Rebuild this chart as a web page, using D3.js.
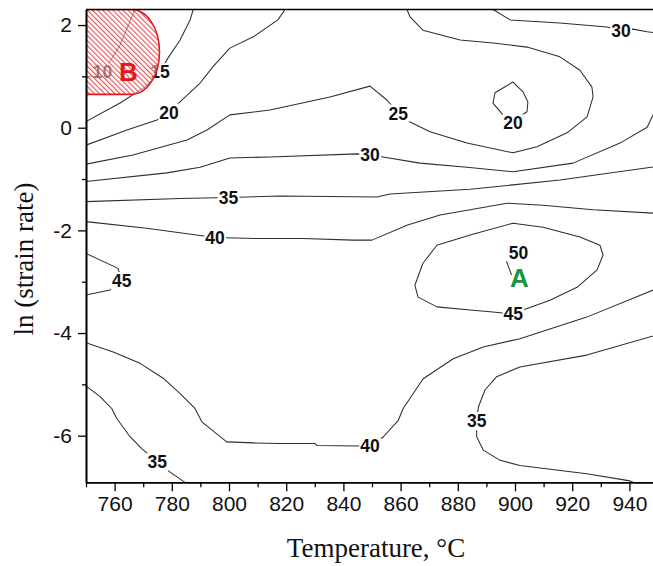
<!DOCTYPE html>
<html>
<head>
<meta charset="utf-8">
<script src="https://cdn.jsdelivr.net/npm/d3@7"></script>
<style>
  html, body { margin: 0; padding: 0; background: #fff; }
  svg { display: block; }
</style>
</head>
<body>
<svg id="chart" width="653" height="566"></svg>
<script>
// Processing map: power dissipation efficiency (%) over temperature and ln(strain rate)
const tempDomain = [750, 950];
const lnRateDomain = [Math.log(0.001), Math.log(10)];

const xMajorTicks = [760, 780, 800, 820, 840, 860, 880, 900, 920, 940];
const xMinorTicks = [750, 770, 790, 810, 830, 850, 870, 890, 910, 930, 950];
const yMajorTicks = [2, 0, -2, -4, -6];
const yMinorTicks = [1, -1, -3, -5];

// iso-efficiency lines, points as [temperature °C, ln strain rate]
const contour10 = [[767.1, 2.303], [761.9, 1.61], [758.7, 1.32], [755.8, 1.09], [750, 0.97]];
const contour15 = [[787.5, 2.303], [786.4, 2.10], [782.9, 1.71], [778.7, 1.36], [775.9, 1.09],
  [770.6, 0.79], [761.9, 0.48], [750, 0.12]];
const contour20Left = [[819.6, 2.303], [817.1, 2.10], [808.5, 1.77], [800.3, 1.55], [794.4, 1.19],
  [789.9, 0.87], [783.6, 0.54], [779.0, 0.30], [774.8, 0.15], [764.3, -0.045], [750, -0.34]];
const contour20Island = [[899.3, 0.89], [902.8, 0.70], [904.5, 0.50], [904.2, 0.31], [899.5, 0.14],
  [895.8, 0.25], [892.3, 0.48], [893.0, 0.68]];
const contour25 = [[750, -0.71], [766.4, -0.53], [785.3, -0.24], [792.3, -0.045], [800.3, 0.25],
  [814.3, 0.345], [835.3, 0.60], [849.3, 0.81], [855.2, 0.54], [859.2, 0.28], [863.3, 0.11],
  [870.3, -0.08], [883.2, -0.30], [899.3, -0.49], [907.7, -0.37], [918.2, -0.10], [925.2, 0.21],
  [927.3, 0.60], [926.9, 0.79], [922.7, 1.12], [915.7, 1.38], [904.2, 1.57], [892.3, 1.65],
  [880.8, 1.71], [867.8, 1.90], [863.3, 2.16], [862.2, 2.303]];
const contour30Top = [[892.3, 2.303], [898.3, 2.10], [915.7, 2.04], [932.2, 1.96], [937.1, 1.89],
  [941.3, 1.92], [946.2, 1.87], [950, 1.84]];
const contour30 = [[750, -1.05], [778.3, -0.88], [789.9, -0.77], [800.3, -0.59], [814.3, -0.57],
  [844.8, -0.51], [849.3, -0.53], [853.8, -0.57], [866.8, -0.69], [883.2, -0.77], [899.3, -0.86],
  [920.3, -0.69], [936.7, -0.30], [946.2, 0.01], [950, 0.45]];
const contour35 = [[750, -1.44], [782.9, -1.38], [799.8, -1.36], [817.8, -1.33], [851.7, -1.35],
  [856.3, -1.29], [884.3, -1.20], [915.7, -1.02], [950, -0.75]];
const contour40 = [[750, -1.83], [771.2, -1.96], [795.1, -2.14], [810.8, -2.16], [825.9, -2.16],
  [843.4, -2.19], [850, -2.19], [862.2, -1.90], [873.8, -1.70], [884.3, -1.60], [897.2, -1.47],
  [909.8, -1.51], [927.3, -1.60], [950, -1.67]];
const contour45Left = [[750, -2.45], [761.2, -2.74], [762.5, -2.98], [758.4, -3.16], [750, -3.26]];
const contour45Island = [[899.4, -3.63], [902.8, -3.55], [912.2, -3.36], [921.7, -3.11], [928.7, -2.77],
  [930.8, -2.48], [929.7, -2.29], [922.7, -2.13], [909.8, -1.94], [899.3, -1.86], [884.3, -2.09],
  [872.7, -2.29], [867.8, -2.64], [865.0, -3.07], [866.1, -3.30], [872.7, -3.49], [884.3, -3.55],
  [892.3, -3.59]];
const contour50 = [[897.0, -2.60], [898.8, -2.87]];
const contour40Low = [[750, -4.19], [759.5, -4.37], [768.9, -4.59], [777.0, -4.88], [782.9, -5.18],
  [788.1, -5.47], [790.5, -5.73], [799.2, -6.12], [808.5, -6.14], [817.8, -6.15], [830.1, -6.15],
  [830.7, -6.19], [845.8, -6.20], [849.3, -6.20], [854.0, -6.02], [859.2, -5.70], [860.9, -5.47],
  [867.9, -4.89], [878.4, -4.50], [888.9, -4.27], [901.7, -4.11], [925.1, -3.69], [948.4, -3.16],
  [950, -3.12]];
const contour35LowLeft = [[750, -5.03], [754.9, -5.24], [759.0, -5.47], [760.7, -5.66], [765.4, -6.02],
  [769.5, -6.25], [774.9, -6.51], [779.4, -6.71], [784.6, -6.908]];
const contour35LowRight = [[950, -4.03], [925.1, -4.43], [901.7, -4.66], [893.6, -4.85], [889.5, -5.11],
  [887.2, -5.44], [886.6, -5.71], [886.6, -6.02], [888.9, -6.28], [894.8, -6.48], [901.7, -6.58],
  [925.1, -6.74], [940.2, -6.88], [941.3, -6.908]];

const contourLines = [
  { level: 10, points: contour10, label: [755.8, 1.09] },
  { level: 15, points: contour15, label: [775.9, 1.09] },
  { level: 20, points: contour20Left, label: [779.0, 0.30] },
  { level: 20, points: contour20Island, label: [899.3, 0.09], closed: true },
  { level: 25, points: contour25, label: [859.2, 0.28] },
  { level: 30, points: contour30Top, label: [937.1, 1.89] },
  { level: 30, points: contour30, label: [849.3, -0.53] },
  { level: 35, points: contour35, label: [799.8, -1.36] },
  { level: 40, points: contour40, label: [795.1, -2.14] },
  { level: 45, points: contour45Left, label: [762.5, -2.98] },
  { level: 45, points: contour45Island, label: [899.4, -3.63], closed: true },
  { level: 50, points: contour50, label: [901.2, -2.44] },
  { level: 40, points: contour40Low, label: [849.3, -6.20] },
  { level: 35, points: contour35LowLeft, label: [774.9, -6.51] },
  { level: 35, points: contour35LowRight, label: [886.6, -5.71] }
];

// instability domain B (hatched) and stable domain A
const regionB = { tMin: 750, tArcCenter: 766, tMax: 775.7, lnMin: 0.65, lnMax: 2.303 };
const domainMarks = [
  { name: "A", t: 901.5, ln: -2.93, color: "#13973a" },
  { name: "B", t: 764.8, ln: 1.09, color: "#e5161c" }
];

const svg = d3.select("#chart");
const x = d3.scaleLinear().domain(tempDomain).range([86, 658]);
const y = d3.scaleLinear().domain(lnRateDomain).range([482.3, 9.5]);

const defs = svg.append("defs");
defs.append("clipPath").attr("id", "plotClip")
  .append("rect").attr("x", x(750)).attr("y", y(lnRateDomain[1]))
  .attr("width", x(950) - x(750)).attr("height", y(lnRateDomain[0]) - y(lnRateDomain[1]));
const hatch = defs.append("pattern").attr("id", "hatchB")
  .attr("width", 3.6).attr("height", 3.6)
  .attr("patternUnits", "userSpaceOnUse")
  .attr("patternTransform", "rotate(-45)");
hatch.append("line").attr("x1", 0.6).attr("y1", 0).attr("x2", 0.6).attr("y2", 3.6)
  .attr("stroke", "#e6343a").attr("stroke-width", 0.95);

const plot = svg.append("g").attr("clip-path", "url(#plotClip)");

const line = d3.line().x(d => x(d[0])).y(d => y(d[1])).curve(d3.curveLinear);
const lineClosed = d3.line().x(d => x(d[0])).y(d => y(d[1])).curve(d3.curveLinearClosed);

plot.selectAll("path.contour").data(contourLines).join("path")
  .attr("class", "contour")
  .attr("d", d => (d.closed ? lineClosed : line)(d.points))
  .attr("fill", "none")
  .attr("stroke", "#2e2e2e")
  .attr("stroke-width", 1.05)
  .attr("stroke-linejoin", "round");

// contour labels with white knock-out boxes
const labelG = plot.append("g");
contourLines.forEach(c => {
  const g = labelG.append("g");
  const t = g.append("text")
    .attr("x", x(c.label[0])).attr("y", y(c.label[1]))
    .attr("dy", "0.36em")
    .attr("text-anchor", "middle")
    .attr("font-family", "'Liberation Sans', Arial, sans-serif")
    .attr("font-size", 17.5)
    .attr("font-weight", "bold")
    .attr("fill", "#111")
    .text(c.level);
  const bb = t.node().getBBox();
  g.insert("rect", "text")
    .attr("x", bb.x - 1).attr("y", bb.y + 1)
    .attr("width", bb.width + 2).attr("height", bb.height - 2)
    .attr("fill", "#fff");
});

// hatched region B
const xa = x(regionB.tArcCenter);
const rx = x(regionB.tMax) - xa;
const ry = (y(regionB.lnMin) - y(regionB.lnMax)) / 2;
const regionPath = `M${x(regionB.tMin)},${y(regionB.lnMax)} L${xa},${y(regionB.lnMax)} ` +
  `A${rx},${ry} 0 0 1 ${xa},${y(regionB.lnMin)} L${x(regionB.tMin)},${y(regionB.lnMin)} Z`;
plot.append("path").attr("d", regionPath).attr("fill", "#fff").attr("fill-opacity", 0.5);
plot.append("path").attr("d", regionPath).attr("fill", "url(#hatchB)")
  .attr("stroke", "#e21b22").attr("stroke-width", 1.6);

svg.append("g").selectAll("text").data(domainMarks).join("text")
  .attr("x", d => x(d.t)).attr("y", d => y(d.ln))
  .attr("dy", "0.36em")
  .attr("text-anchor", "middle")
  .attr("font-family", "'Liberation Sans', Arial, sans-serif")
  .attr("font-size", 26)
  .attr("font-weight", "bold")
  .attr("fill", d => d.color)
  .text(d => d.name);

// axes
const axisFont = "'Liberation Sans', Arial, sans-serif";
const xAxis = svg.append("g").attr("transform", `translate(0,${y(lnRateDomain[0])})`)
  .call(d3.axisBottom(x).tickValues(xMajorTicks).tickSize(9).tickSizeOuter(0).tickPadding(5));
const xMinor = svg.append("g").attr("transform", `translate(0,${y(lnRateDomain[0])})`)
  .call(d3.axisBottom(x).tickValues(xMinorTicks).tickSize(5).tickSizeOuter(0).tickFormat(""));
const yAxis = svg.append("g").attr("transform", `translate(${x(750)},0)`)
  .call(d3.axisLeft(y).tickValues(yMajorTicks).tickSize(8).tickSizeOuter(0).tickPadding(6)
    .tickFormat(d => d < 0 ? "-" + Math.abs(d) : d));
const yMinor = svg.append("g").attr("transform", `translate(${x(750)},0)`)
  .call(d3.axisLeft(y).tickValues(yMinorTicks).tickSize(4).tickSizeOuter(0).tickFormat(""));

[xAxis, xMinor, yAxis, yMinor].forEach(a => {
  a.select(".domain").attr("stroke", "#000").attr("stroke-width", 1.6);
  a.selectAll(".tick line").attr("stroke", "#000").attr("stroke-width", 1.3);
  a.selectAll(".tick text").attr("font-family", axisFont).attr("font-size", 21).attr("fill", "#111");
});

// frame top and right
svg.append("line").attr("x1", x(750)).attr("x2", x(950))
  .attr("y1", y(lnRateDomain[1])).attr("y2", y(lnRateDomain[1]))
  .attr("stroke", "#000").attr("stroke-width", 1.6);
svg.append("line").attr("x1", x(950)).attr("x2", x(950))
  .attr("y1", y(lnRateDomain[1])).attr("y2", y(lnRateDomain[0]))
  .attr("stroke", "#000").attr("stroke-width", 1.6);

// axis titles
svg.append("text")
  .attr("x", 376).attr("y", 557)
  .attr("text-anchor", "middle")
  .attr("font-family", "'Liberation Serif', 'Times New Roman', serif")
  .attr("font-size", 27)
  .attr("fill", "#111")
  .text("Temperature, °C");
svg.append("text")
  .attr("transform", "translate(33,259) rotate(-90)")
  .attr("text-anchor", "middle")
  .attr("font-family", "'Liberation Serif', 'Times New Roman', serif")
  .attr("font-size", 27)
  .attr("fill", "#111")
  .text("ln (strain rate)");
</script>
</body>
</html>
